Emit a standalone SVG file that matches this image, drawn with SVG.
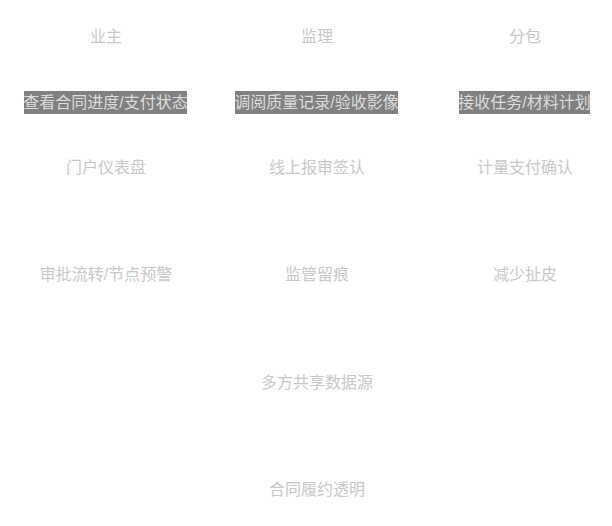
<svg xmlns="http://www.w3.org/2000/svg" width="612" height="526" viewBox="0 0 612 526">
<style>
text{font-family:"Liberation Sans","Noto Sans CJK SC",sans-serif;font-size:16px;text-anchor:middle;fill:#c8c8c8}
.lb{fill:#808080}
.lt{fill:#dddddd}
</style>
<rect width="612" height="526" fill="#ffffff"/>
<g id="n-owner"><text x="106" y="42">业主</text></g>
<g id="n-super"><text x="317" y="42">监理</text></g>
<g id="n-sub"><text x="525" y="42">分包</text></g>
<g id="n-portal"><text x="106" y="173">门户仪表盘</text></g>
<g id="n-online"><text x="317" y="173">线上报审签认</text></g>
<g id="n-pay"><text x="525" y="173">计量支付确认</text></g>
<g id="n-flow"><text x="106" y="280">审批流转/节点预警</text></g>
<g id="n-trace"><text x="317" y="280">监管留痕</text></g>
<g id="n-less"><text x="525" y="280">减少扯皮</text></g>
<g id="n-shared"><text x="317" y="388">多方共享数据源</text></g>
<g id="n-contract"><text x="317" y="495">合同履约透明</text></g>
<g id="connectors">
<rect class="lb" x="24" y="91" width="163" height="23"/><text class="lt" x="105.5" y="108">查看合同进度/支付状态</text>
<rect class="lb" x="235" y="91" width="163" height="23"/><text class="lt" x="316.5" y="108">调阅质量记录/验收影像</text>
<rect class="lb" x="459" y="91" width="131" height="23"/><text class="lt" x="524.5" y="108">接收任务/材料计划</text>
</g>
</svg>
